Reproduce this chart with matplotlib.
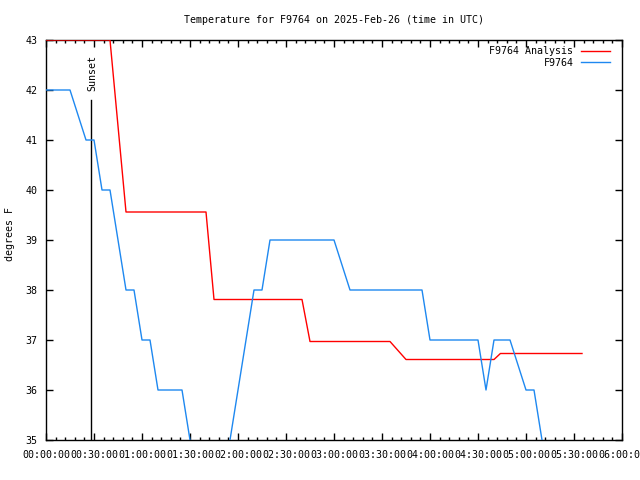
import matplotlib
matplotlib.use('Agg')
import matplotlib.pyplot as plt
from matplotlib.ticker import MultipleLocator, FuncFormatter
import matplotlib.transforms as mtransforms

# --- Données (minutes depuis 00:00 UTC) ---
TITRE = "Temperature for F9764 on 2025-Feb-26 (time in UTC)"

ANALYSE_MIN = [0, 40, 50, 100, 105, 160, 165, 215, 225, 280, 284, 335]
ANALYSE_F = [43, 43, 39.56, 39.56, 37.81, 37.81, 36.97, 36.97, 36.61, 36.61, 36.73, 36.73]

STATION_MIN = [0, 15, 25, 30, 35, 40, 50, 55, 60, 65, 70, 85, 90, 95, 110, 115,
               130, 135, 140, 180, 190, 235, 240, 270, 275, 280, 290, 300, 305,
               310, 315, 335]
STATION_F = [42, 42, 41, 41, 40, 40, 38, 38, 37, 37, 36, 36, 35, 34, 34, 35,
             38, 38, 39, 39, 38, 38, 37, 37, 36, 37, 37, 36, 36,
             35, 34, 34]

SUNSET_MIN = 28.3

plt.rcParams['font.family'] = ['DejaVu Sans Mono', 'DejaVu Sans']
TAILLE = 7.2


def hhmmss(m, pos=None):
    m = int(round(m))
    return f"{m // 60:02d}:{m % 60:02d}:00"


fig = plt.figure(figsize=(6.4, 4.8), dpi=100)
ax = fig.add_axes([46 / 640, 40 / 480, 576 / 640, 400 / 480])

ax.plot(ANALYSE_MIN, ANALYSE_F, color='#ff0000', lw=1.0, label='F9764 Analysis', zorder=3)
ax.plot(STATION_MIN, STATION_F, color='#1e88f0', lw=1.0, label='F9764', zorder=3)

# ligne du coucher de soleil
ax.axvline(SUNSET_MIN, ymin=0, ymax=0.85, color='black', lw=1.0)
trans = mtransforms.blended_transform_factory(ax.transData, ax.transAxes)
ax.text(SUNSET_MIN + 0.8, 0.872, 'Sunset', transform=trans, rotation=90,
        ha='center', va='bottom', fontsize=TAILLE)

ax.set_xlim(0, 360)
ax.set_ylim(35, 43)
ax.xaxis.set_major_locator(MultipleLocator(30))
ax.xaxis.set_minor_locator(MultipleLocator(6))
ax.xaxis.set_major_formatter(FuncFormatter(hhmmss))
ax.yaxis.set_major_locator(MultipleLocator(1))

ax.tick_params(which='both', direction='in', top=True, right=True,
               labelsize=TAILLE, width=1.0, color='black')
ax.tick_params(which='major', length=5)
ax.tick_params(which='minor', length=2.5)
ax.tick_params(axis='x', pad=7)
ax.tick_params(axis='y', pad=6)

for s in ax.spines.values():
    s.set_linewidth(1.0)

ax.set_title(TITRE, fontsize=TAILLE, pad=12)
ax.set_ylabel('degrees F', fontsize=TAILLE)
ax.yaxis.set_label_coords(-0.054, 0.515)

ax.legend(loc='upper right', bbox_to_anchor=(0.979, 0.984), markerfirst=False,
          frameon=False, fontsize=TAILLE, handlelength=2.9, handletextpad=0.75,
          borderaxespad=0, borderpad=0, labelspacing=0.15)

fig.savefig('out.png', dpi=100)
plt.close(fig)
